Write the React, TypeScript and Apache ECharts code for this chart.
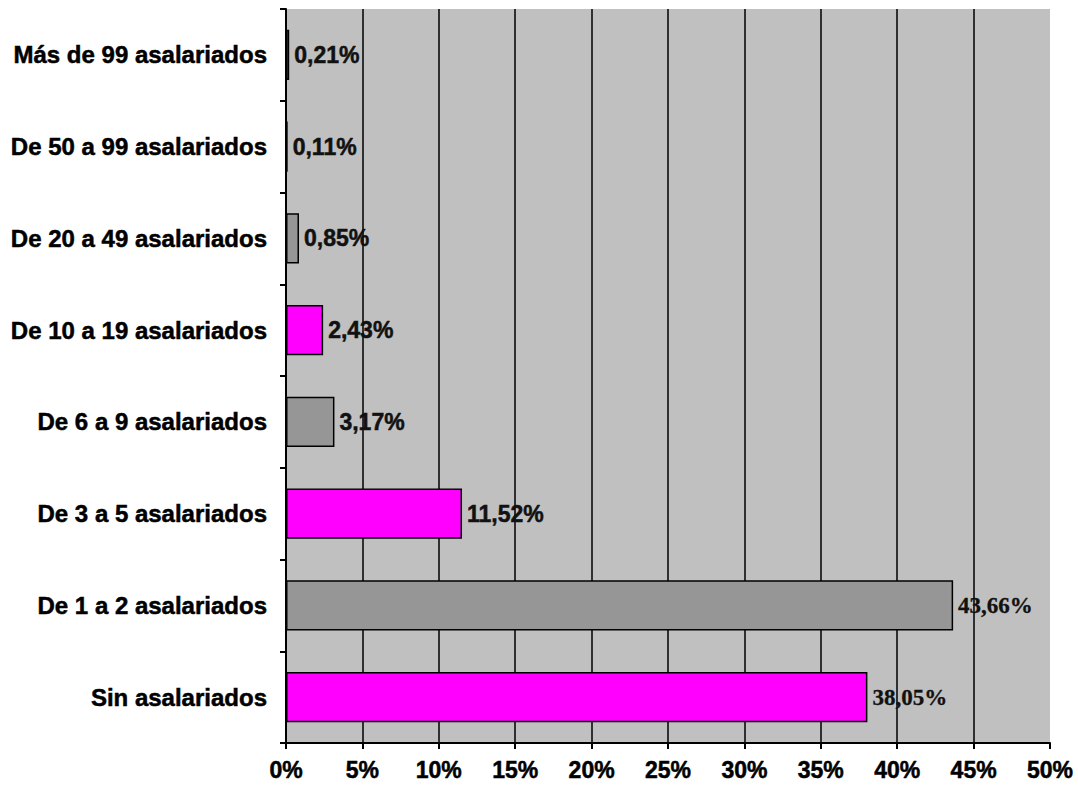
import React, { useEffect, useRef } from "react";
import * as echarts from "echarts";

const categories = [
  "Sin asalariados",
  "De 1 a 2 asalariados",
  "De 3 a 5 asalariados",
  "De 6 a 9 asalariados",
  "De 10 a 19 asalariados",
  "De 20 a 49 asalariados",
  "De 50 a 99 asalariados",
  "Más de 99 asalariados",
];
const values = [38.05, 43.66, 11.52, 3.17, 2.43, 0.85, 0.11, 0.21];
const barColors = ["#FF00FF", "#969696", "#FF00FF", "#969696", "#FF00FF", "#969696", "#FF00FF", "#969696"];
const serifLabelIdx = [0, 1];

const fmt = (v: number) => v.toFixed(2).replace(".", ",") + "%";

export default function App() {
  const ref = useRef<HTMLDivElement>(null);
  useEffect(() => {
    if (!ref.current) return;
    const chart = echarts.init(ref.current, undefined, { renderer: "svg" });
    const sans = '"Liberation Sans", Arial, sans-serif';
    const serif = '"Liberation Serif", "Times New Roman", serif';
    const heavy = { textBorderColor: "#000", textBorderWidth: 0.5 };
    chart.setOption({
      animation: false,
      backgroundColor: "#ffffff",
      grid: {
        left: 286,
        right: 28,
        top: 9,
        bottom: 44,
        show: true,
        backgroundColor: "#C0C0C0",
        borderWidth: 0,
      },
      xAxis: {
        type: "value",
        min: 0,
        max: 50,
        interval: 5,
        axisLine: { show: true, lineStyle: { color: "#000", width: 2 } },
        axisTick: { show: true, length: 6, lineStyle: { color: "#000", width: 2 } },
        axisLabel: {
          formatter: (v: number) => v + "%",
          color: "#000",
          fontFamily: sans,
          fontWeight: "bold",
          fontSize: 23,
          margin: 15,
          ...heavy,
        },
        splitLine: {
          show: true,
          showMinLine: false,
          showMaxLine: false,
          lineStyle: { color: "#000", width: 1.5 },
        },
      },
      yAxis: {
        type: "category",
        data: categories,
        axisLine: { show: true, lineStyle: { color: "#000", width: 2 } },
        axisTick: { show: true, length: 6, lineStyle: { color: "#000", width: 2 } },
        axisLabel: {
          color: "#000",
          fontFamily: sans,
          fontWeight: "bold",
          fontSize: 24,
          margin: 19,
          ...heavy,
        },
        splitLine: { show: false },
      },
      series: [
        {
          type: "bar",
          barWidth: "55%",
          data: values.map((v, i) => ({
            value: v,
            itemStyle: { color: barColors[i], borderColor: "#000", borderWidth: 1.5 },
            label: {
              show: true,
              position: "right",
              distance: 5,
              formatter: () => fmt(v),
              color: "#111",
              fontFamily: serifLabelIdx.includes(i) ? serif : sans,
              fontWeight: "bold",
              fontSize: 23,
              textBorderColor: "#111",
              textBorderWidth: serifLabelIdx.includes(i) ? 0.3 : 0.5,
            },
          })),
        },
      ],
    });
    return () => chart.dispose();
  }, []);
  return (
    <div
      ref={ref}
      style={{ position: "absolute", left: 0, top: 0, width: 1078, height: 787 }}
    />
  );
}
